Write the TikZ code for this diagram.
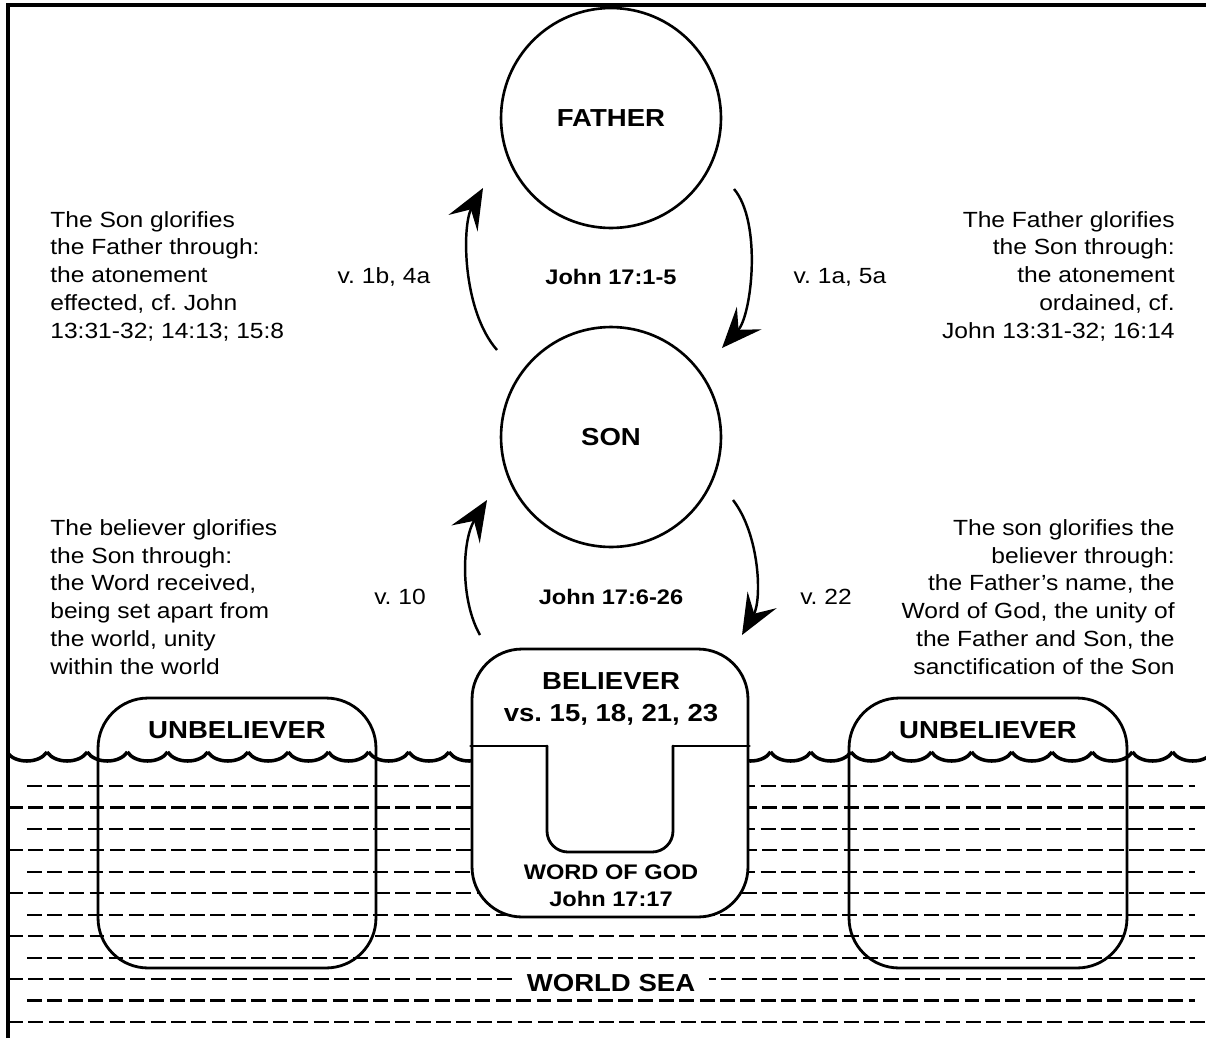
\documentclass[tikz,border=0pt]{standalone}
\usepackage{fontspec}
\setmainfont{Liberation Sans}[FakeStretch=1.12]
\usetikzlibrary{arrows.meta}
\frenchspacing

\newcommand\bigbold{\bfseries\fontsize{14}{18}\selectfont}
\newcommand\smallbold{\bfseries\fontsize{12}{15.3}\selectfont}

\begin{document}
\begin{tikzpicture}
  [
    x                 = 0.02cm,
    y                 = -0.02cm,
    every node/.style = {font=\fontsize{12.5}{15.8}\selectfont},
    rule/.style       = {line width=1.8pt},
    person/.style     = {circle, draw, line width=1.5pt, minimum size=4.4cm,
                         font=\bigbold},
    soul/.style       = {rectangle, draw, rounded corners=1cm, line width=1.6pt},
    rim/.style        = {line width=1.6pt, line cap=round},
    glory/.style      = {line width=1.4pt,
                         -{Stealth[length=23pt, width=19pt, inset=9pt]}},
    wave/.style       = {line width=2pt},
    sea/.style        = {line width=1.25pt, dash pattern=on 8.5pt off 3.1pt},
    note/.style       = {inner sep=0pt},
    tag/.style        = {font=\bigbold},
    ref/.style        = {font=\smallbold}
  ]
  \useasboundingbox (0,0) rectangle (1206,1038);
  \draw[rule] (8,1038) -- (8,5) -- (1206,5);

  % world sea
  \foreach \k [evaluate=\k as \ry using 786+21.45*\k] in {0,2,...,10}
    \draw[sea] (27,\ry) -- (1195,\ry);
  \foreach \k [evaluate=\k as \ry using 786+21.45*\k] in {1,3,...,11}
    \draw[sea] (8,\ry) -- (1206,\ry);
  \node[tag, fill=white, inner xsep=8pt, inner ysep=1pt] (sea) at (611,983) {WORLD SEA};

  % surface
  \begin{scope}
    \clip (8,700) rectangle (1206,800);
    \foreach \k [evaluate=\k as \xa using 6.8+40.2*\k] in {0,...,29}
      \draw[wave] (\xa,752) .. controls (\xa+8,764) and (\xa+32.2,764) .. (\xa+40.2,752);
  \end{scope}

  % unbelievers
  \node[soul, minimum width=5.56cm, minimum height=5.4cm] (lost-left)  at (237,833) {};
  \node[soul, minimum width=5.56cm, minimum height=5.4cm] (lost-right) at (988,833) {};
  \node[tag] (lost-left-name)  at (237,730) {UNBELIEVER};
  \node[tag] (lost-right-name) at (988,730) {UNBELIEVER};

  % believer
  \node[soul, fill=white, minimum width=5.52cm, minimum height=5.36cm] (believer) at (610,783) {};
  \coordinate (divide) at (0,746);
  \draw[rim] (believer.west |- divide) -- (547,746);
  \draw[rim, rounded corners=0.42cm] (547,746) -- (547,852) -- (673,852) -- (673,746);
  \draw[rim] (673,746) -- (believer.east |- divide);
  \node[tag, align=center] (believer-name) at (611,699) {BELIEVER\\vs. 15, 18, 21, 23};
  \node[ref, align=center] (word) at (611,886) {WORD OF GOD\\John 17:17};

  % father and son
  \node[person] (father) at (611,118) {FATHER};
  \node[person] (son)    at (611,437) {SON};

  % glory arrows
  \coordinate (sf-start) at (497,350);
  \coordinate (sf-end)   at (483,188);
  \coordinate (fs-start) at (734,189);
  \coordinate (fs-end)   at (722,348);
  \coordinate (bs-start) at (480,635);
  \coordinate (bs-end)   at (487,500);
  \coordinate (sb-start) at (733,500);
  \coordinate (sb-end)   at (742,635);
  \draw[glory] (sf-start) .. controls (462,310) and (462,225) .. (sf-end);
  \draw[glory] (fs-start) .. controls (762,222) and (752,315) .. (fs-end);
  \draw[glory] (bs-start) .. controls (460,600) and (462,540) .. (bs-end);
  \draw[glory] (sb-start) .. controls (760,535) and (762,600) .. (sb-end);

  % verses
  \node (v1b)        at (384,277) {v. 1b, 4a};
  \node[ref] (john1) at (611,277) {John 17:1-5};
  \node (v1a)        at (840,277) {v. 1a, 5a};
  \node (v10)        at (400,597) {v. 10};
  \node[ref] (john6) at (611,597) {John 17:6-26};
  \node (v22)        at (826,597) {v. 22};

  % notes
  \node[note, anchor=west, align=left] (son-note) at (50,276)
    {The Son glorifies\\the Father through:\\the atonement\\effected, cf. John\\13:31-32; 14:13; 15:8};
  \node[note, anchor=east, align=right] (father-note) at (1175,276)
    {The Father glorifies\\the Son through:\\the atonement\\ordained, cf.\\John 13:31-32; 16:14};
  \node[note, anchor=west, align=left] (believer-note) at (50,597)
    {The believer glorifies\\the Son through:\\the Word received,\\being set apart from\\the world, unity\\within the world};
  \node[note, anchor=east, align=right] (gift-note) at (1175,597)
    {The son glorifies the\\believer through:\\the Father's name, the\\Word of God, the unity of\\the Father and Son, the\\sanctification of the Son};
\end{tikzpicture}
\end{document}
